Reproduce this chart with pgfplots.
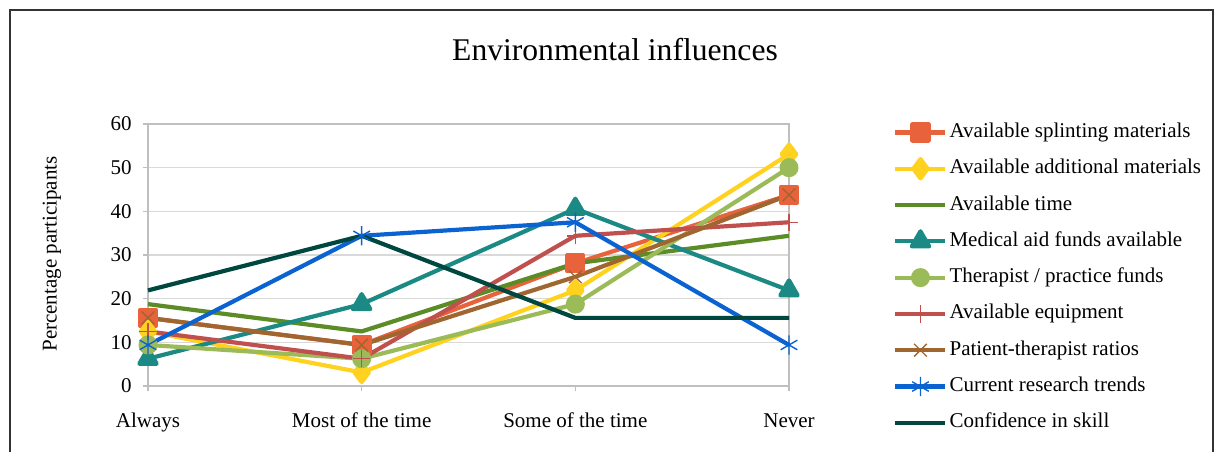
\documentclass[border=0pt]{standalone}
\usepackage{fontspec}
\setmainfont{Liberation Serif}
\usepackage{pgfplots}
\pgfplotsset{compat=1.18}

\definecolor{cSplint}{HTML}{E8623C}
\definecolor{cAddit}{HTML}{FFD21F}
\definecolor{cTime}{HTML}{5B8C26}
\definecolor{cMedic}{HTML}{1B8A84}
\definecolor{cThera}{HTML}{9BBB59}
\definecolor{cEquip}{HTML}{C0504D}
\definecolor{cRatio}{HTML}{A0662F}
\definecolor{cResea}{HTML}{0B63D1}
\definecolor{cConfi}{HTML}{00473F}
\definecolor{cAxis}{HTML}{BFBFBF}
\definecolor{cGrid}{HTML}{D9D9D9}

\begin{document}
\begin{tikzpicture}
% outer chart frame
\draw[line width=0.7pt, black!80] (5pt,0pt) -- (5pt,221pt) -- (606.5pt,221pt) -- (606.5pt,0pt);

\node[font=\fontsize{15.8}{18}\selectfont] at (307.5pt,201pt) {Environmental influences};
\node[rotate=90, font=\fontsize{10.5}{12}\selectfont] at (26pt,99pt) {Percentage participants};

\begin{axis}[
  at={(74pt,33pt)}, anchor=south west,
  scale only axis, width=320.5pt, height=131pt,
  xmin=0, xmax=3, ymin=0, ymax=60,
  xtick={0,1,2,3},
  xticklabels={Always, Most of the time, Some of the time, Never},
  ytick={0,10,...,60},
  ymajorgrids,
  grid style={draw=cGrid, line width=0.6pt},
  axis line style={draw=cAxis, line width=0.6pt},
  tick style={draw=cAxis, line width=0.6pt},
  tick align=outside, major tick length=2.5pt,
  xtick pos=bottom, ytick pos=left,
  /pgf/number format/assume math mode=true,
  tick label style={font=\fontsize{10.5}{12}\selectfont},
  yticklabel style={anchor=east, inner sep=0pt, xshift=-5.5pt},
  xticklabel style={anchor=base, inner sep=0pt, yshift=-18pt},
  every axis plot/.append style={line width=2.1pt, line join=round},
  legend cell align=left,
  legend style={
    at={(1.1622,1.0076)}, anchor=north west,
    draw=none, fill=none, inner sep=0pt,
    font=\fontsize{10.5}{12}\selectfont,
    row sep=8.15pt, column sep=1pt,
    nodes={inner sep=0pt, text height=7.5pt, text depth=2.5pt},
  },
  legend image code/.code={
    \draw[mark repeat=2,mark phase=2] plot coordinates {(0pt,0pt) (12.5pt,0pt) (25pt,0pt)};
  },
  clip=false,
]
\addplot[cSplint, mark=square*, mark size=4pt, mark options={solid}]
  coordinates {(0,15.6) (1,9.4) (2,28.1) (3,43.75)};
\addlegendentry{Available splinting materials}
\addplot[cAddit, mark=diamond*, mark size=4.8pt, mark options={solid}]
  coordinates {(0,12.5) (1,3.1) (2,21.9) (3,53.1)};
\addlegendentry{Available additional materials}
\addplot[cTime]
  coordinates {(0,18.75) (1,12.5) (2,28.1) (3,34.4)};
\addlegendentry{Available time}
\addplot[cMedic, mark=triangle*, mark size=5pt, mark options={solid}]
  coordinates {(0,6.25) (1,18.75) (2,40.6) (3,21.9)};
\addlegendentry{Medical aid funds available}
\addplot[cThera, mark=*, mark size=3.7pt, mark options={solid}]
  coordinates {(0,9.4) (1,6.25) (2,18.75) (3,50)};
\addlegendentry{Therapist / practice funds}
\addplot[cEquip, mark=+, mark size=4.3pt, mark options={solid, line width=0.7pt}]
  coordinates {(0,12.5) (1,6.25) (2,34.4) (3,37.5)};
\addlegendentry{Available equipment}
\addplot[cRatio, mark=x, mark size=4.5pt, mark options={solid, line width=0.7pt}]
  coordinates {(0,15.6) (1,9.4) (2,25) (3,43.75)};
\addlegendentry{Patient-therapist ratios}
\addplot[cResea, mark=asterisk, mark size=4.8pt, mark options={solid, line width=0.7pt}]
  coordinates {(0,9.4) (1,34.4) (2,37.5) (3,9.4)};
\addlegendentry{Current research trends}
\addplot[cConfi]
  coordinates {(0,21.9) (1,34.4) (2,15.6) (3,15.6)};
\addlegendentry{Confidence in skill}
\end{axis}

\pgfresetboundingbox
\useasboundingbox (0pt,0pt) rectangle (607.5pt,226pt);
\end{tikzpicture}
\end{document}
